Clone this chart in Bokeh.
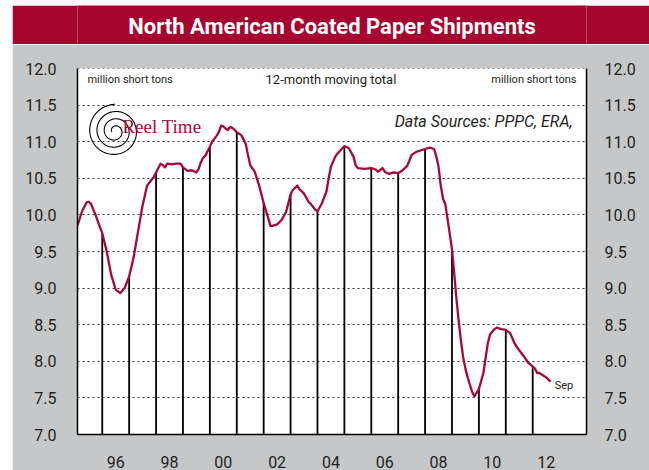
import numpy as np
from bokeh.plotting import figure
from bokeh.layouts import column
from bokeh.models import (Range1d, LinearAxis, FixedTicker, Label, Span,
                          PrintfTickFormatter, CustomJSTickFormatter)
from bokeh.embed import file_html
from bokeh.resources import INLINE

# ---------------- data (12-month moving total, million short tons) ----------------
months = [
    "1995-02", "1995-04", "1995-06", "1995-07", "1995-08", "1995-10", "1995-12",
    "1996-01", "1996-03", "1996-05", "1996-07", "1996-09", "1996-11",
    "1997-01", "1997-03", "1997-05", "1997-07", "1997-09", "1997-11", "1997-12",
    "1998-01", "1998-03", "1998-04", "1998-05", "1998-06", "1998-08", "1998-10", "1998-12",
    "1999-01", "1999-03", "1999-05", "1999-07", "1999-08", "1999-09", "1999-10", "1999-11",
    "2000-01", "2000-02", "2000-04", "2000-05", "2000-06", "2000-07", "2000-08", "2000-09",
    "2000-10", "2000-11",
    "2001-01", "2001-03", "2001-05", "2001-06", "2001-07", "2001-09", "2001-11",
    "2002-01", "2002-03", "2002-04", "2002-05", "2002-07", "2002-09", "2002-11",
    "2003-01", "2003-02", "2003-04", "2003-05", "2003-07", "2003-09", "2003-10", "2003-12",
    "2004-01", "2004-03", "2004-05", "2004-06", "2004-07", "2004-09", "2004-10",
    "2005-01", "2005-03", "2005-05", "2005-06", "2005-07", "2005-10",
    "2006-01", "2006-03", "2006-04", "2006-06", "2006-07", "2006-09", "2006-11",
    "2007-01", "2007-03", "2007-05", "2007-06", "2007-07", "2007-09", "2007-11",
    "2008-01", "2008-03", "2008-05", "2008-06", "2008-07", "2008-08", "2008-09", "2008-10",
    "2008-11",
    "2009-01", "2009-02", "2009-03", "2009-04", "2009-05", "2009-06", "2009-07", "2009-08",
    "2009-09", "2009-10", "2009-11", "2009-12",
    "2010-01", "2010-03", "2010-04", "2010-05", "2010-06", "2010-08", "2010-09", "2010-11",
    "2011-01", "2011-03", "2011-05", "2011-07", "2011-09", "2011-11",
    "2012-01", "2012-02", "2012-03", "2012-04", "2012-05", "2012-06", "2012-07", "2012-08",
    "2012-09",
]
shipments = [
    9.86, 10.05, 10.17, 10.18, 10.15, 10.00, 9.83,
    9.75, 9.50, 9.18, 8.98, 8.93, 9.00,
    9.16, 9.42, 9.78, 10.13, 10.40, 10.48, 10.52,
    10.58, 10.70, 10.68, 10.65, 10.70, 10.69, 10.70, 10.70,
    10.65, 10.60, 10.61, 10.58, 10.63, 10.72, 10.78, 10.81,
    10.93, 11.00, 11.08, 11.13, 11.22, 11.21, 11.18, 11.16,
    11.20, 11.19,
    11.13, 11.09, 10.97, 10.82, 10.68, 10.59, 10.40,
    10.16, 9.96, 9.85, 9.85, 9.87, 9.93, 10.04,
    10.28, 10.34, 10.40, 10.35, 10.29, 10.18, 10.15, 10.07,
    10.05, 10.16, 10.32, 10.50, 10.66, 10.80, 10.84,
    10.94, 10.91, 10.80, 10.68, 10.64, 10.63,
    10.64, 10.62, 10.59, 10.64, 10.59, 10.56, 10.58,
    10.57, 10.61, 10.67, 10.74, 10.82, 10.86, 10.88,
    10.90, 10.92, 10.90, 10.80, 10.66, 10.40, 10.22, 10.15,
    9.95,
    9.53, 9.20, 8.85, 8.55, 8.28, 8.05, 7.90, 7.78,
    7.68, 7.58, 7.52, 7.57,
    7.62, 7.84, 8.05, 8.25, 8.37, 8.44, 8.46, 8.44,
    8.43, 8.38, 8.24, 8.15, 8.07, 7.98,
    7.93, 7.90, 7.84, 7.84, 7.82, 7.80, 7.78, 7.75,
    7.72,
]
x_tick_years = [1996, 1998, 2000, 2002, 2004, 2006, 2008, 2010, 2012]
y_ticks = [7.0, 7.5, 8.0, 8.5, 9.0, 9.5, 10.0, 10.5, 11.0, 11.5, 12.0]

# ---------------- derived ----------------
xs = [int(m[:4]) + (int(m[5:]) - 1) / 12.0 for m in months]
jan_x = [xv for xv, m in zip(xs, months) if m.endswith("-01")]
jan_v = [v for v, m in zip(shipments, months) if m.endswith("-01")]

RED = "#A50A37"
BAR = "#A6052F"
GRAY = "#C6C7C9"
FONT = "Roboto, 'Liberation Sans', sans-serif"
TEXT = "#231F20"

Y0, Y1 = 7.0, 12.0
X0, X1 = 1995.08, 2014.0

# ---------------- header bar ----------------
h = figure(width=637, height=39, output_backend="svg", toolbar_location=None,
           x_range=Range1d(0, 1), y_range=Range1d(0, 1),
           x_axis_location=None, y_axis_location=None,
           min_border=0, min_border_left=0, min_border_right=0,
           min_border_top=0, min_border_bottom=0,
           background_fill_color=BAR, border_fill_color=BAR,
           outline_line_color=None, margin=(5, 0, 0, 12))
h.grid.visible = False
h.add_layout(Label(x=0.5, y=0.47, text="North American Coated Paper Shipments",
                   text_align="center", text_baseline="middle",
                   text_color="white", text_font=FONT, text_font_style="bold",
                   text_font_size="22px"))

# ---------------- main chart ----------------
p = figure(width=637, height=426, output_backend="svg", toolbar_location=None,
           x_range=Range1d(X0, X1), y_range=Range1d(Y0, Y1),
           min_border_left=65, min_border_right=63, min_border_top=24, min_border_bottom=34,
           background_fill_color="white", border_fill_color=GRAY,
           outline_line_color=None, margin=(0, 0, 0, 12))

p.xaxis.ticker = FixedTicker(ticks=[y + 0.5 for y in x_tick_years])
p.xaxis.formatter = CustomJSTickFormatter(
    code="return String(Math.floor(tick) % 100).padStart(2, '0');")
p.xaxis.major_tick_line_color = None
p.xaxis.minor_tick_line_color = None
p.xaxis.axis_line_color = "black"
p.xaxis.axis_line_width = 1.5
p.xaxis.major_label_standoff = 15
p.xaxis.major_label_text_font = FONT
p.xaxis.major_label_text_font_size = "16px"
p.xaxis.major_label_text_color = TEXT

p.yaxis.ticker = FixedTicker(ticks=y_ticks)
p.yaxis.formatter = PrintfTickFormatter(format="%.1f")
right = LinearAxis(ticker=FixedTicker(ticks=y_ticks), formatter=PrintfTickFormatter(format="%.1f"))
p.add_layout(right, "right")
for ax in (p.yaxis[0], right):
    ax.major_tick_line_color = None
    ax.minor_tick_line_color = None
    ax.axis_line_color = "black"
    ax.axis_line_width = 1.5
    ax.major_label_text_font = FONT
    ax.major_label_text_font_size = "16px"
    ax.major_label_text_color = TEXT
p.yaxis[0].major_label_standoff = 15
right.major_label_standoff = 12

p.xgrid.grid_line_color = None
p.ygrid.ticker = FixedTicker(ticks=y_ticks)
p.ygrid.grid_line_color = "#333333"
p.ygrid.grid_line_dash = "2 3"
p.ygrid.grid_line_width = 1
# dotted top edge at the top of the value range
p.add_layout(Span(location=Y1, dimension="width", line_color="#333333",
                  line_dash="2 3", line_width=1))

# drop lines at each January
p.segment(x0=jan_x, y0=[Y0] * len(jan_x), x1=jan_x, y1=jan_v,
          line_color="black", line_width=1.8)

# series
p.line(xs, shipments, line_color=RED, line_width=2.3, line_join="round")

# texts inside plot
def lab(x, y, text, align="left", size="10px", style="normal", color=TEXT, font=FONT):
    p.add_layout(Label(x=x, y=y, text=text, text_align=align, text_baseline="middle",
                       text_font_size=size, text_font_style=style,
                       text_color=color, text_font=font))

lab(1995.45, 11.85, "million short tons", size="11px")
lab(2004.5, 11.85, "12-month moving total", align="center", size="13px")
lab(2013.63, 11.85, "million short tons", align="right", size="11px")
lab(2013.63, 11.28, "Data Sources:  PPPC, ERA,", align="right", size="16px", style="italic")
lab(2012.82, 7.67, "Sep", size="11px")
lab(1996.75, 11.21, "Reel Time", size="19px", color=RED,
    font="'Liberation Serif', 'DejaVu Serif', serif")

# spiral logo
cx, cy = 1996.47, 11.144
t = np.linspace(0, 3.3 * 2 * np.pi, 500)
r = 27 - 24 * t / t[-1]
sx = cx + r * np.cos(t + np.pi / 2) / 26.95
sy = cy + r * np.sin(t + np.pi / 2) / 73.6
p.line(sx, sy, line_color="black", line_width=1.1)

layout = column(h, p, spacing=0)
open("out.html", "w").write(file_html(layout, INLINE))
